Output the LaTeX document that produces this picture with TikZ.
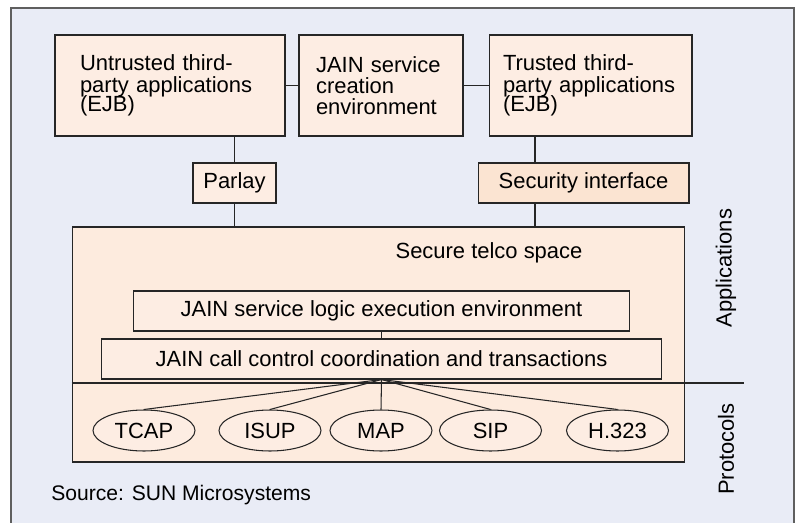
\documentclass[tikz,border=0pt]{standalone}
\usepackage{fontspec}
\setmainfont{Liberation Sans}
\usetikzlibrary{positioning}
\usetikzlibrary{shapes.geometric}
\hyphenpenalty=10000
\definecolor{bgblue}{RGB}{233,236,246}
\definecolor{peach}{RGB}{253,237,227}
\definecolor{peachdark}{RGB}{251,228,210}
\definecolor{peachspace}{RGB}{253,235,222}
\definecolor{framegray}{RGB}{95,95,95}
\tikzset{box/.style={draw=black!85, line width=0.6pt, fill=peach, align=left, inner ysep=0pt, minimum height=2.02cm},
	%small boxes between the layers
	smallbox/.style={draw=black!85, line width=0.6pt, fill=peach, inner sep=0pt, minimum height=0.8cm},
	proto/.style={ellipse, draw=black!85, line width=0.6pt, fill=peach, inner sep=0pt, minimum width=2.04cm, minimum height=0.82cm},
	link/.style={draw=black!85, line width=0.6pt}}

\begin{document}
\begin{tikzpicture}[x=0.02cm, y=-0.02cm, font=\fontsize{12.5}{12}\selectfont]
		\useasboundingbox (0,0) rectangle (800,523);
		\fill[bgblue] (11,8) rectangle (794,530);
		\draw[framegray, line width=0.6pt] (11,530) -- (11,8) -- (794,8) -- (794,530);
%		top row
		\node[box, inner xsep=0.5cm, text width=3.6cm] (untr) at (170,85.5) {Untrusted third-\\party applications\\[-1pt](EJB)};
		\node[box, inner xsep=0.34cm, text width=2.6cm] (sce) at (381,85.5) {JAIN service\\creation\\environment};
		\node[box, inner xsep=0.28cm, text width=3.5cm] (trust) at (590.5,85.5) {Trusted third-\\party applications\\[-1pt](EJB)};
		\draw[link] (untr.east) -- (sce.west);
		\draw[link] (sce.east) -- (trust.west);
%		interfaces
		\node[smallbox, minimum width=1.66cm] (parlay) at (234.5,183) {Parlay};
		\node[smallbox, fill=peachdark, minimum width=4.22cm] (secif) at (583.5,183) {Security interface};
%		secure telco space
		\node[draw=black!85, line width=0.6pt, fill=peachspace, minimum width=12.26cm, minimum height=4.7cm] (telco) at (378.5,344.5) {};
		\node[inner sep=0pt] (stspace) at (489,253) {Secure telco space};
		\node[smallbox, minimum width=9.94cm] (slee) at (381.5,311) {JAIN service logic execution environment};
		\node[smallbox, minimum width=11.22cm] (cc) at (381.5,359) {JAIN call control coordination and transactions};
		\draw[link] (slee.south) -- (cc.north);
		\coordinate (slink) at (535,150);
		\draw[link] (parlay.north) -- (parlay.north |- untr.south);
		\draw[link] (parlay.south) -- (parlay.south |- telco.north);
		\draw[link] (slink |- trust.south) -- (slink |- secif.north);
		\draw[link] (slink |- secif.south) -- (slink |- telco.north);
%		layer border
		\coordinate (sepend) at (744,383);
		\draw[link] (sepend -| telco.west) -- (sepend);
%		protocols
		\node[proto] (tcap) at (144,430.5) {TCAP};
		\node[proto] (isup) at (270,430.5) {ISUP};
		\node[proto] (map) at (381,430.5) {MAP};
		\node[proto] (sip) at (490.5,430.5) {SIP};
		\node[proto] (h323) at (617.5,430.5) {H.323};
		\foreach \p in {tcap,isup,map,sip,h323}
			\draw[link] (cc.south) -- (\p.north);
%		side labels
		\node[rotate=90, inner sep=0pt] (apps) at (726,268) {Applications};
		\node[rotate=90, inner sep=0pt] (protos) at (726,449) {Protocols};
		\node[anchor=west, inner sep=0pt, font=\fontsize{12}{12}\selectfont] (src) at (51,495) {Source: SUN Microsystems};
	\end{tikzpicture}
\end{document}
